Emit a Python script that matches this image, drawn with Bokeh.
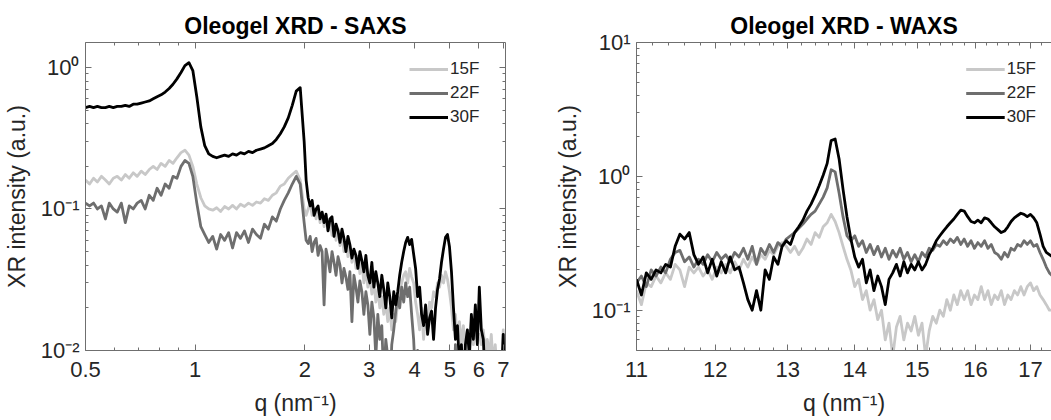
from bokeh.plotting import figure
from bokeh.layouts import row
from bokeh.models import (LinearAxis, FixedTicker, CustomJSTickFormatter, Legend, LegendItem, Range1d)
from bokeh.embed import file_html
from bokeh.resources import INLINE

# ---------------- SAXS data ----------------
saxs_q = [0.500, 0.513, 0.526, 0.539, 0.553, 0.567, 0.581, 0.596, 0.611, 0.627,
          0.643, 0.659, 0.676, 0.693, 0.711, 0.729, 0.748, 0.767, 0.786, 0.806,
          0.827, 0.848, 0.869, 0.891, 0.914, 0.937, 0.961, 0.985, 1.010, 1.036,
          1.062, 1.089, 1.117, 1.145, 1.174, 1.204, 1.235, 1.266, 1.298, 1.331,
          1.365, 1.400, 1.436, 1.472, 1.510, 1.548, 1.587, 1.628, 1.669, 1.712,
          1.755, 1.800, 1.846, 1.893, 1.941,
          1.990, 2.015, 2.041, 2.067, 2.093, 2.119, 2.146, 2.173, 2.201, 2.229,
          2.257, 2.285, 2.314, 2.343, 2.373, 2.403, 2.434, 2.465, 2.496, 2.527,
          2.559, 2.591, 2.624, 2.657, 2.691, 2.725, 2.760, 2.795, 2.830, 2.866,
          2.902, 2.939, 2.976, 3.014, 3.052, 3.091, 3.130, 3.169, 3.209, 3.250,
          3.291, 3.333, 3.375, 3.418, 3.461, 3.505, 3.549, 3.594, 3.639, 3.685,
          3.732, 3.779, 3.827, 3.875, 3.924, 3.974, 4.024, 4.075, 4.127, 4.179,
          4.232, 4.286, 4.340, 4.395, 4.450, 4.507, 4.564, 4.622, 4.680, 4.739,
          4.799, 4.860, 4.921, 4.984, 5.047, 5.111, 5.175, 5.241, 5.307, 5.374,
          5.442, 5.511, 5.581, 5.652, 5.723, 5.796, 5.869, 5.943, 6.018, 6.094,
          6.171, 6.250, 6.329, 6.409, 6.490, 6.572, 6.655, 6.739, 6.825, 6.911,
          6.999, 7.050, 7.100]

saxs_15F = [0.16, 0.15, 0.165, 0.155, 0.17, 0.16, 0.15, 0.165, 0.17, 0.16,
            0.175, 0.165, 0.18, 0.17, 0.185, 0.175, 0.19, 0.2, 0.19, 0.21,
            0.2, 0.22, 0.21, 0.23, 0.25, 0.26, 0.24, 0.2, 0.15, 0.12,
            0.105, 0.1, 0.098, 0.102, 0.096, 0.104, 0.1, 0.106, 0.1, 0.108,
            0.104, 0.11, 0.106, 0.112, 0.11, 0.118, 0.115, 0.125, 0.13, 0.145,
            0.15, 0.165, 0.175, 0.185, 0.16,
            0.1, 0.09, 0.1, 0.11, 0.09, 0.1, 0.085, 0.1, 0.08, 0.095,
            0.075, 0.09, 0.07, 0.085, 0.065, 0.078, 0.06, 0.072, 0.055, 0.066,
            0.05, 0.06, 0.046, 0.055, 0.042, 0.05, 0.038, 0.046, 0.035, 0.042,
            0.03, 0.038, 0.028, 0.034, 0.025, 0.03, 0.022, 0.027, 0.02, 0.024,
            0.018, 0.022, 0.016, 0.02, 0.014, 0.018, 0.016, 0.022, 0.026, 0.03,
            0.034, 0.036, 0.03, 0.038, 0.033, 0.03, 0.022, 0.018, 0.014, 0.02,
            0.012, 0.018, 0.016, 0.022, 0.02, 0.026, 0.024, 0.03, 0.028, 0.034,
            0.03, 0.036, 0.032, 0.026, 0.02, 0.014, 0.018, 0.012, 0.016, 0.011,
            0.015, 0.01, 0.014, 0.012, 0.016, 0.011, 0.015, 0.012, 0.013, 0.011,
            0.014, 0.01, 0.012, 0.009, 0.013, 0.008, 0.011, 0.007, 0.009, 0.006,
            0.014, 0.006, 0.005]

saxs_22F = [0.11, 0.105, 0.11, 0.1, 0.105, 0.085, 0.11, 0.1, 0.095, 0.11,
            0.08, 0.105, 0.1, 0.11, 0.115, 0.1, 0.125, 0.115, 0.14, 0.125,
            0.15, 0.14, 0.17, 0.165, 0.2, 0.22, 0.21, 0.17, 0.11, 0.075,
            0.066, 0.058, 0.064, 0.052, 0.066, 0.06, 0.068, 0.053, 0.068, 0.062,
            0.07, 0.058, 0.072, 0.066, 0.062, 0.078, 0.072, 0.088, 0.082, 0.1,
            0.115, 0.13, 0.15, 0.17, 0.15,
            0.08, 0.06, 0.057, 0.064, 0.05, 0.058, 0.062, 0.047, 0.055, 0.05,
            0.021, 0.052, 0.044, 0.036, 0.05, 0.042, 0.034, 0.046, 0.04, 0.03,
            0.038, 0.033, 0.027, 0.036, 0.016, 0.034, 0.028, 0.022, 0.031, 0.026,
            0.018, 0.026, 0.021, 0.013, 0.022, 0.017, 0.009, 0.018, 0.012, 0.015,
            0.006, 0.012, 0.009, 0.005, 0.011, 0.014, 0.019, 0.024, 0.02, 0.028,
            0.022, 0.03, 0.024, 0.028, 0.018, 0.012, 0.006, 0.01, 0.005, 0.004,
            0.006, 0.004, 0.009, 0.004, 0.006, 0.004, 0.005, 0.004, 0.006, 0.004,
            0.005, 0.004, 0.006, 0.004, 0.005, 0.004, 0.011, 0.004, 0.005, 0.004,
            0.006, 0.004, 0.005, 0.004, 0.006, 0.004, 0.005, 0.004, 0.006, 0.004,
            0.005, 0.004, 0.006, 0.004, 0.005, 0.004, 0.006, 0.004, 0.005, 0.004,
            0.005, 0.004, 0.004]

saxs_30F = [0.52, 0.53, 0.52, 0.53, 0.52, 0.52, 0.53, 0.52, 0.53, 0.53,
            0.54, 0.53, 0.55, 0.55, 0.56, 0.57, 0.58, 0.60, 0.62, 0.64,
            0.67, 0.71, 0.76, 0.83, 0.92, 1.03, 1.08, 0.95, 0.62, 0.38,
            0.28, 0.245, 0.235, 0.23, 0.235, 0.24, 0.235, 0.245, 0.24, 0.25,
            0.245, 0.255, 0.25, 0.26, 0.265, 0.27, 0.28, 0.29, 0.31, 0.34,
            0.38, 0.44, 0.54, 0.68, 0.72,
            0.30, 0.16, 0.12, 0.105, 0.115, 0.09, 0.1, 0.105, 0.085, 0.095,
            0.08, 0.092, 0.07, 0.085, 0.088, 0.064, 0.078, 0.07, 0.058, 0.072,
            0.062, 0.05, 0.064, 0.056, 0.045, 0.052, 0.047, 0.038, 0.05, 0.043,
            0.036, 0.047, 0.034, 0.03, 0.042, 0.028, 0.036, 0.03, 0.024, 0.034,
            0.027, 0.02, 0.03, 0.024, 0.017, 0.026, 0.021, 0.026, 0.034, 0.042,
            0.05, 0.058, 0.063, 0.056, 0.061, 0.048, 0.038, 0.024, 0.028, 0.018,
            0.015, 0.021, 0.013, 0.017, 0.019, 0.012, 0.02, 0.027, 0.032, 0.042,
            0.052, 0.063, 0.066, 0.054, 0.036, 0.02, 0.012, 0.015, 0.008, 0.011,
            0.006, 0.011, 0.014, 0.009, 0.018, 0.012, 0.021, 0.011, 0.028, 0.014,
            0.012, 0.006, 0.009, 0.005, 0.004, 0.006, 0.004, 0.005, 0.004, 0.006,
            0.013, 0.005, 0.004]

# ---------------- WAXS data ----------------
waxs_q = [11.00, 11.06, 11.12, 11.18, 11.24, 11.30, 11.36, 11.42, 11.48, 11.54,
          11.60, 11.66, 11.72, 11.78, 11.84, 11.90, 11.96, 12.02, 12.08, 12.14,
          12.20, 12.26, 12.32, 12.38, 12.44, 12.50, 12.56, 12.62, 12.68, 12.74,
          12.80, 12.86, 12.92, 12.98, 13.04, 13.10, 13.16, 13.22, 13.28, 13.34,
          13.40, 13.46, 13.52, 13.58, 13.64, 13.70, 13.76, 13.82, 13.88, 13.94,
          14.00, 14.06, 14.12, 14.18, 14.24, 14.30, 14.36, 14.42, 14.48, 14.54,
          14.60, 14.66, 14.72, 14.78, 14.84, 14.90, 14.96, 15.02, 15.08, 15.14,
          15.20, 15.26, 15.32, 15.38, 15.44, 15.50, 15.56, 15.62, 15.68, 15.74,
          15.80, 15.86, 15.92, 15.98, 16.04, 16.10, 16.16, 16.22, 16.28, 16.34,
          16.40, 16.46, 16.52, 16.58, 16.64, 16.70, 16.76, 16.82, 16.88, 16.94,
          17.00, 17.06, 17.12, 17.18, 17.24, 17.30, 17.36, 17.42]

waxs_15F = [0.14, 0.11, 0.16, 0.15, 0.18, 0.16, 0.19, 0.17, 0.22, 0.2,
            0.15, 0.21, 0.19, 0.21, 0.18, 0.2, 0.17, 0.21, 0.19, 0.22,
            0.19, 0.23, 0.2, 0.24, 0.21, 0.25, 0.22, 0.26, 0.24, 0.28,
            0.26, 0.3, 0.32, 0.3, 0.27, 0.3, 0.26, 0.29, 0.34, 0.31,
            0.38, 0.35, 0.42, 0.45, 0.52, 0.46, 0.38, 0.3, 0.24, 0.2,
            0.15, 0.17, 0.12, 0.14, 0.1, 0.12, 0.085, 0.1, 0.06, 0.08,
            0.045, 0.075, 0.09, 0.06, 0.08, 0.07, 0.09, 0.065, 0.08, 0.045,
            0.07, 0.09, 0.08, 0.1, 0.09, 0.12, 0.1, 0.13, 0.11, 0.14,
            0.12, 0.14, 0.11, 0.13, 0.12, 0.15, 0.12, 0.14, 0.11, 0.13,
            0.12, 0.14, 0.11, 0.13, 0.12, 0.14, 0.13, 0.15, 0.13, 0.15,
            0.16, 0.14, 0.15, 0.13, 0.12, 0.11, 0.1, 0.1]

waxs_22F = [0.16, 0.18, 0.15, 0.2, 0.18, 0.21, 0.19, 0.24, 0.27, 0.28,
            0.23, 0.25, 0.21, 0.24, 0.22, 0.26, 0.23, 0.27, 0.24, 0.26,
            0.23, 0.27, 0.25, 0.29, 0.24, 0.3, 0.22, 0.29, 0.26, 0.31,
            0.27, 0.32, 0.3, 0.34, 0.36, 0.38, 0.41, 0.44, 0.48, 0.52,
            0.55, 0.62, 0.7, 0.82, 1.12, 1.08, 0.75, 0.5, 0.36, 0.33,
            0.36, 0.3, 0.33, 0.27, 0.31, 0.26, 0.3, 0.25, 0.29, 0.24,
            0.28, 0.25, 0.29, 0.24, 0.27, 0.23, 0.26, 0.23, 0.27, 0.25,
            0.29, 0.28, 0.31, 0.3, 0.33, 0.31, 0.34, 0.32, 0.35, 0.31,
            0.34, 0.3, 0.33, 0.29, 0.32, 0.3, 0.33, 0.29, 0.31, 0.27,
            0.26, 0.24, 0.27, 0.25, 0.29, 0.28, 0.31, 0.3, 0.33, 0.31,
            0.33, 0.3, 0.31, 0.27, 0.24, 0.21, 0.19, 0.18]

waxs_30F = [0.17, 0.13, 0.19, 0.17, 0.2, 0.19, 0.22, 0.21, 0.3, 0.37,
            0.34, 0.38, 0.26, 0.22, 0.25, 0.19, 0.24, 0.18, 0.23, 0.19,
            0.25, 0.2, 0.21, 0.16, 0.12, 0.1, 0.14, 0.1, 0.2, 0.17,
            0.25, 0.22, 0.3, 0.33, 0.31, 0.38, 0.42, 0.47, 0.55, 0.62,
            0.72, 0.85, 1.02, 1.25, 1.85, 1.9, 1.35, 0.8, 0.5, 0.34,
            0.25, 0.21, 0.24, 0.16, 0.2, 0.14, 0.18, 0.15, 0.11, 0.17,
            0.19, 0.22, 0.18, 0.23, 0.19, 0.22, 0.2, 0.23, 0.2, 0.22,
            0.26, 0.29, 0.33, 0.36, 0.39, 0.42, 0.45, 0.48, 0.52, 0.56,
            0.55, 0.5, 0.46, 0.45, 0.47, 0.45, 0.49, 0.48, 0.45, 0.42,
            0.4, 0.38, 0.39, 0.42, 0.46, 0.49, 0.51, 0.53, 0.52, 0.5,
            0.52, 0.49, 0.45, 0.37, 0.3, 0.27, 0.26, 0.25]

series_names = ["15F", "22F", "30F"]
series_colors = ["#c8c8c8", "#6e6e6e", "#000000"]
series_widths = [2.8, 2.8, 2.8]

saxs_xticks = [0.5, 1, 2, 3, 4, 5, 6, 7]
waxs_xticks = [11, 12, 13, 14, 15, 16, 17]

FONT = "Liberation Sans"
TXT = "#262626"
AX = "#6f6f6f"

YFMT = CustomJSTickFormatter(code="""
const e = Math.round(Math.log10(tick));
const m = {"0":"\\u2070","1":"\\u00b9","2":"\\u00b2","-":"\\u207b"};
return "10" + String(e).split("").map(c => m[c]).join("");
""")
XFMT = CustomJSTickFormatter(code="return String(Math.round(tick*10)/10);")
EMPTY = CustomJSTickFormatter(code="return '';")


def style_axis(ax, labels=True):
    ax.axis_line_color = AX
    ax.major_tick_line_color = AX
    ax.minor_tick_line_color = AX
    ax.major_tick_in = 6
    ax.major_tick_out = 0
    ax.minor_tick_in = 3
    ax.minor_tick_out = 0
    ax.major_label_text_font = FONT
    ax.major_label_text_font_size = "22px"
    ax.major_label_text_color = TXT
    ax.axis_label_text_font = FONT
    ax.axis_label_text_font_size = "23px"
    ax.axis_label_text_font_style = "normal"
    ax.axis_label_text_color = TXT
    if not labels:
        ax.formatter = EMPTY
        ax.major_label_standoff = 0
        ax.axis_label_standoff = 0


def make_panel(title, q, ys, xr, yr, xticks, xminor, yticks, yminor,
               width, left, right, right_axis, label_width):
    p = figure(width=width, height=420, x_axis_type="log", y_axis_type="log",
               x_range=Range1d(*xr), y_range=Range1d(*yr),
               output_backend="svg", toolbar_location=None,
               min_border_left=left, min_border_right=right,
               min_border_top=42, min_border_bottom=70)
    p.title.text = title
    p.title.align = "center"
    p.title.text_font = FONT
    p.title.text_font_size = "23px"
    p.title.text_font_style = "bold"
    p.title.text_color = "#000000"
    p.title.standoff = 8
    p.outline_line_color = None
    p.grid.grid_line_color = None
    p.background_fill_color = "white"
    p.border_fill_color = "white"

    xt = FixedTicker(ticks=xticks, minor_ticks=xminor)
    yt = FixedTicker(ticks=yticks, minor_ticks=yminor)

    p.xaxis.ticker = xt
    p.xaxis.formatter = XFMT
    p.xaxis.axis_label = "q (nm\u207b\u00b9)"
    p.yaxis.ticker = yt
    p.yaxis.formatter = YFMT
    p.yaxis.axis_label = "XR intensity (a.u.)"
    for ax in p.xaxis + p.yaxis:
        style_axis(ax)
    p.xaxis.major_label_standoff = 11
    p.yaxis.major_label_standoff = 6
    p.xaxis.axis_label_standoff = 10
    p.yaxis.axis_label_standoff = 8

    top = LinearAxis(ticker=xt)
    style_axis(top, labels=False)
    p.add_layout(top, "above")
    if right_axis:
        rax = LinearAxis(ticker=yt)
        style_axis(rax, labels=False)
        p.add_layout(rax, "right")

    items = []
    for name, color, lw, y in zip(series_names, series_colors, series_widths, ys):
        r = p.line(q, y, line_color=color, line_width=lw, line_join="round")
        items.append(LegendItem(label=name, renderers=[r]))
    leg = Legend(items=items, location="top_right")
    leg.border_line_alpha = 0
    leg.background_fill_alpha = 0
    leg.margin = 10
    leg.padding = 5
    leg.spacing = 0
    leg.glyph_width = 39
    leg.glyph_height = 24
    leg.label_height = 24
    leg.label_standoff = 2
    leg.label_width = label_width
    leg.label_text_font = FONT
    leg.label_text_font_size = "17px"
    leg.label_text_color = TXT
    p.add_layout(leg)
    return p


saxs_xminor = [0.6, 0.7, 0.8, 0.9]
saxs_yticks = [0.01, 0.1, 1]
saxs_yminor = [k * 10.0 ** e for e in (-2, -1) for k in range(2, 10)]
waxs_xminor = [round(11 + 0.2 * k, 1) for k in range(33) if k % 5]
waxs_yticks = [0.1, 1, 10]
waxs_yminor = [k * 10.0 ** e for e in (-2, -1, 0) for k in range(2, 10) if k * 10.0 ** e >= 0.05]

p1 = make_panel("Oleogel XRD - SAXS", saxs_q, [saxs_15F, saxs_22F, saxs_30F],
                (0.5, 7.1), (0.01, 1.5), saxs_xticks, saxs_xminor,
                saxs_yticks, saxs_yminor, 530, 84, 25, True, 40)
p2 = make_panel("Oleogel XRD - WAXS", waxs_q, [waxs_15F, waxs_22F, waxs_30F],
                (11, 17.4), (0.05, 10), waxs_xticks, waxs_xminor,
                waxs_yticks, waxs_yminor, 521, 106, 0, False, 28)

layout = row(p1, p2)
with open("out.html", "w", encoding="utf-8") as f:
    f.write(file_html(layout, INLINE))
